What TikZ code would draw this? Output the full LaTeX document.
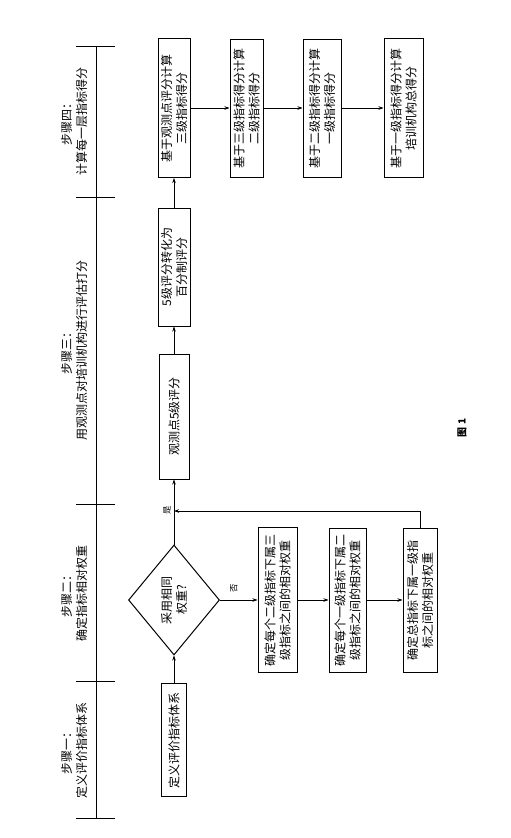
\documentclass[tikz,border=0pt]{standalone}
\usepackage{fontspec}
\setmainfont{Noto Sans CJK SC}
\usetikzlibrary{arrows.meta,shapes.geometric}
\begin{document}
\begin{tikzpicture}[x=1pt,y=-1pt,
  box/.style={draw, line width=1pt, rotate=90, align=center, inner sep=1pt, font=\fontsize{12}{15}\selectfont},
  arr/.style={line width=0.6pt, -{Stealth[length=5pt,width=3.5pt]}},
  steplab/.style={rotate=90, align=center, font=\fontsize{12}{15}\selectfont},
  lab/.style={rotate=90, inner sep=0pt, font=\fontsize{8.5}{8.5}\selectfont},
  tl/.style={line width=0.8pt}]
\useasboundingbox (0,0) rectangle (511,838);
% timeline
\coordinate (ttop) at (96,46);
\coordinate (tbot) at (96,818);
\draw[tl] (ttop) -- (tbot);
\foreach \y in {46,197,504,681,818} \draw[tl] (76,\y) -- (115,\y);
% step labels
\node[steplab] (st4) at (74,121) {步骤四：\\计算每一层指标得分};
\node[steplab] (st3) at (74,350) {步骤三：\\用观测点对培训机构进行评估打分};
\node[steplab] (st2) at (74,593) {步骤二：\\确定指标相对权重};
\node[steplab] (st1) at (74,750) {步骤一：\\定义评价指标体系};
% nodes
\node[box, minimum width=113pt, minimum height=25pt] (b1) at (174,740) {定义评价指标体系};
\node[draw, diamond, rotate=90, line width=1pt, minimum width=110pt, minimum height=91pt, inner sep=0pt, align=center, font=\fontsize{12}{15}\selectfont] (dia) at (174,600) {采用相同\\权重?};
\node[box, minimum width=145pt, minimum height=39pt] (w1) at (277.5,600) {确定每个二级指标下属三\\级指标之间的相对权重};
\node[box, minimum width=144pt, minimum height=37pt] (w2) at (347.5,600) {确定每个一级指标下属二\\级指标之间的相对权重};
\node[box, minimum width=144pt, minimum height=34pt] (w3) at (420,600) {确定总指标下属一级指\\标之间的相对权重};
\node[box, minimum width=125pt, minimum height=30pt] (s1) at (174,416.5) {观测点5级评分};
\node[box, minimum width=118pt, minimum height=32pt] (s2) at (174,267) {5级评分转化为\\百分制评分};
\node[box, minimum width=139pt, minimum height=32pt] (s3) at (174,108) {基于观测点评分计算\\三级指标得分};
\node[box, minimum width=138pt, minimum height=33pt] (f2) at (246.5,108) {基于三级指标得分计算\\二级指标得分};
\node[box, minimum width=138pt, minimum height=38pt] (f3) at (322,108) {基于二级指标得分计算\\一级指标得分};
\node[box, minimum width=139pt, minimum height=39pt] (f4) at (403.5,108) {基于一级指标得分计算\\培训机构总得分};
% labels
\node[lab] (no) at (234,588) {否};
\node[lab] (yes) at (167,510) {是};
\node[rotate=90, font=\bfseries\fontsize{10}{10}\selectfont] (fig) at (462,428) {图 1};
% connectors
\coordinate (yesj) at (174,511);
\draw[arr] (b1) -- (dia);
\draw[arr] (dia.south) -- (w1);
\draw[arr] (w1) -- (w2);
\draw[arr] (w2) -- (w3);
\draw[arr] (w3.east) |- (yesj);
\draw[arr] (dia.east) -- (s1);
\draw[arr] (s1) -- (s2);
\draw[arr] (s2) -- (s3);
\draw[arr] (s3) -- (f2);
\draw[arr] (f2) -- (f3);
\draw[arr] (f3) -- (f4);
\end{tikzpicture}
\end{document}
